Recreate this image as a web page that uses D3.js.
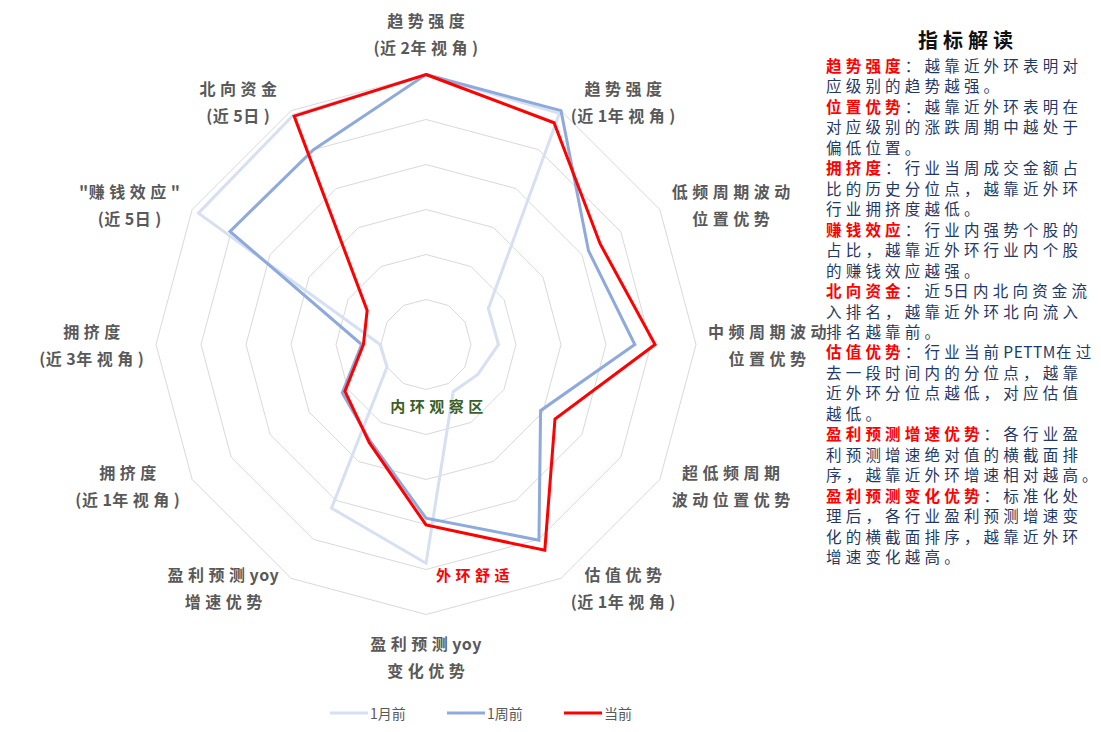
<!DOCTYPE html>
<html><head><meta charset="utf-8">
<script src="https://cdn.jsdelivr.net/npm/d3@7"></script>
<style>
html,body{margin:0;padding:0;background:#fff;}
svg{display:block;}
</style>
</head><body>
<svg id="chart" width="1101" height="732"></svg>
<script>
// ---------- DATA ----------
const categories = [
  ["趋势强度", "(近2年视角)"],
  ["趋势强度", "(近1年视角)"],
  ["低频周期波动", "位置优势"],
  ["中频周期波动", "位置优势"],
  ["超低频周期", "波动位置优势"],
  ["估值优势", "(近1年视角)"],
  ["盈利预测yoy", "变化优势"],
  ["盈利预测yoy", "增速优势"],
  ["拥挤度", "(近1年视角)"],
  ["拥挤度", "(近3年视角)"],
  ["\"赚钱效应\"", "(近5日)"],
  ["北向资金", "(近5日)"]
];
const seriesNames = ["1月前", "1周前", "当前"];
const monthAgo = [60, 59.3, 16.0, 16.1, 13.3, 12.1, 48.6, 42.0, 10.0, 10.2, 58.4, 58.9];
const weekAgo  = [60, 60.0, 41.7, 46.4, 29.4, 50.2, 38.6, 24.8, 21.5, 14.3, 50.3, 50.0];
const current  = [60, 56.9, 44.7, 50.9, 33.1, 52.8, 40.1, 25.2, 20.8, 13.9, 15.1, 58.6];
const ringTicks = [10, 20, 30, 40, 50, 60];
const scaleMax = 60;
const innerLabel = "内环观察区";
const outerLabel = "外环舒适";
const panelTitle = "指标解读";
const panelLines = [
  ["趋势强度", "：越靠近外环表明对"],
  ["", "应级别的趋势越强。"],
  ["位置优势", "：越靠近外环表明在"],
  ["", "对应级别的涨跌周期中越处于"],
  ["", "偏低位置。"],
  ["拥挤度", "：行业当周成交金额占"],
  ["", "比的历史分位点，越靠近外环"],
  ["", "行业拥挤度越低。"],
  ["赚钱效应", "：行业内强势个股的"],
  ["", "占比，越靠近外环行业内个股"],
  ["", "的赚钱效应越强。"],
  ["北向资金", "：近5日内北向资金流"],
  ["", "入排名，越靠近外环北向流入"],
  ["", "排名越靠前。"],
  ["估值优势", "：行业当前PETTM在过"],
  ["", "去一段时间内的分位点，越靠"],
  ["", "近外环分位点越低，对应估值"],
  ["", "越低。"],
  ["盈利预测增速优势", "：各行业盈"],
  ["", "利预测增速绝对值的横截面排"],
  ["", "序，越靠近外环增速相对越高。"],
  ["盈利预测变化优势", "：标准化处"],
  ["", "理后，各行业盈利预测增速变"],
  ["", "化的横截面排序，越靠近外环"],
  ["", "增速变化越高。"]
];

// ---------- STYLE ----------
const colors = ["#D6E0F2", "#8EA9DB", "#FF0000"];
const cx = 426, cy = 344.5, R = 270;
const svg = d3.select("#chart");
const font = "'Noto Sans CJK SC','Noto Sans',sans-serif";

// split string into runs of wide (CJK) vs narrow chars; spacing only on wide ones
function addRuns(textSel, str, spacing, attrs) {
  const runs = [];
  for (const ch of str) {
    const wide = ch.charCodeAt(0) > 0x2E80;
    if (runs.length && runs[runs.length - 1].wide === wide) runs[runs.length - 1].s += ch;
    else runs.push({ wide, s: ch });
  }
  runs.forEach(run => {
    const ts = textSel.append("tspan").text(run.s).attr("letter-spacing", run.wide ? spacing : 0.5);
    if (attrs) Object.entries(attrs).forEach(([k, v]) => ts.attr(k, v));
  });
  return textSel;
}

const r = d3.scaleLinear().domain([0, scaleMax]).range([0, R]);
const n = categories.length;
const angle = d3.scaleLinear().domain([0, n]).range([0, 2 * Math.PI]);

const g = svg.append("g").attr("transform", `translate(${cx},${cy})`);

// grid rings
const ringLine = d3.lineRadial().angle((d, i) => angle(i)).radius(d => r(d)).curve(d3.curveLinearClosed);
g.selectAll(".ring").data(ringTicks).enter().append("path")
  .attr("d", t => ringLine(d3.range(n).map(() => t)))
  .attr("fill", "none").attr("stroke", "#D9D9D9").attr("stroke-width", 1);

// series
const allSeries = [monthAgo, weekAgo, current];
const valLine = d3.lineRadial().angle((d, i) => angle(i)).radius(d => r(d)).curve(d3.curveLinearClosed);
g.selectAll(".series").data(allSeries).enter().append("path")
  .attr("d", d => valLine(d))
  .attr("fill", "none")
  .attr("stroke", (d, i) => colors[i])
  .attr("stroke-width", 3)
  .attr("stroke-linejoin", "miter");

// axis labels
const ls = 4.5, lfs = 16, lh = 27;
categories.forEach((lines, i) => {
  const a = angle(i);
  const vx = cx + R * Math.sin(a), vy = cy - R * Math.cos(a);
  const t = svg.append("g");
  const texts = lines.map(s => addRuns(t.append("text")
    .attr("font-family", font).attr("font-size", lfs).attr("font-weight", 700)
    .attr("fill", "#595959")
    .attr("text-anchor", "middle").attr("dominant-baseline", "central"), s, ls));
  const w = d3.max(texts, tx => tx.node().getComputedTextLength()) - ls;
  const s = Math.sin(a), c = Math.cos(a);
  let bx, by;
  if (Math.abs(s) < 0.01) {
    bx = vx;
    by = c > 0 ? vy - 14 - lh * lines.length / 2 : vy + 15 + lh * lines.length / 2;
  } else if (s > 0) {
    bx = vx + 12 + w / 2;
    by = vy - 11 * c;
  } else {
    bx = vx - 14 - w / 2;
    by = vy - 11 * c;
  }
  texts.forEach((tx, k) => {
    const endsWide = lines[k].slice(-1).charCodeAt(0) > 0x2E80;
    tx.attr("x", bx + (endsWide ? ls / 2 : 0)).attr("y", by + (k - (lines.length - 1) / 2) * lh);
  });
});

// inner / outer notes
addRuns(svg.append("text").attr("x", cx + 13).attr("y", 405)
  .attr("font-family", font).attr("font-size", 15).attr("font-weight", 700)
  .attr("fill", "#3A5F2A").attr("text-anchor", "middle").attr("dominant-baseline", "central"), innerLabel, 4.5);
addRuns(svg.append("text").attr("x", 475).attr("y", 574)
  .attr("font-family", font).attr("font-size", 15).attr("font-weight", 700)
  .attr("fill", "#FF0000").attr("text-anchor", "middle").attr("dominant-baseline", "central"), outerLabel, 4.5);

// right panel
addRuns(svg.append("text").attr("x", 968).attr("y", 39)
  .attr("font-family", font).attr("font-size", 20).attr("font-weight", 700)
  .attr("fill", "#111").attr("text-anchor", "middle").attr("dominant-baseline", "central"), panelTitle, 5);
const pStep = (556 - 65) / (panelLines.length - 1);
panelLines.forEach((pl, i) => {
  const t = svg.append("text").attr("x", 826).attr("y", 65 + i * pStep)
    .attr("font-family", font).attr("font-size", 15.5)
    .attr("dominant-baseline", "central");
  if (pl[0]) addRuns(t, pl[0], 4.2, { fill: "#FF0000", "font-weight": 700 });
  addRuns(t, pl[1], 4.2, { fill: "#1F3864" });
});

// legend
const legX = [330, 447, 564];
seriesNames.forEach((name, i) => {
  svg.append("line").attr("x1", legX[i]).attr("x2", legX[i] + 38).attr("y1", 713).attr("y2", 713)
    .attr("stroke", colors[i]).attr("stroke-width", 3);
  svg.append("text").text(name).attr("x", legX[i] + 40).attr("y", 713)
    .attr("font-family", font).attr("font-size", 14).attr("fill", "#595959")
    .attr("dominant-baseline", "central");
});
</script>
</body></html>
